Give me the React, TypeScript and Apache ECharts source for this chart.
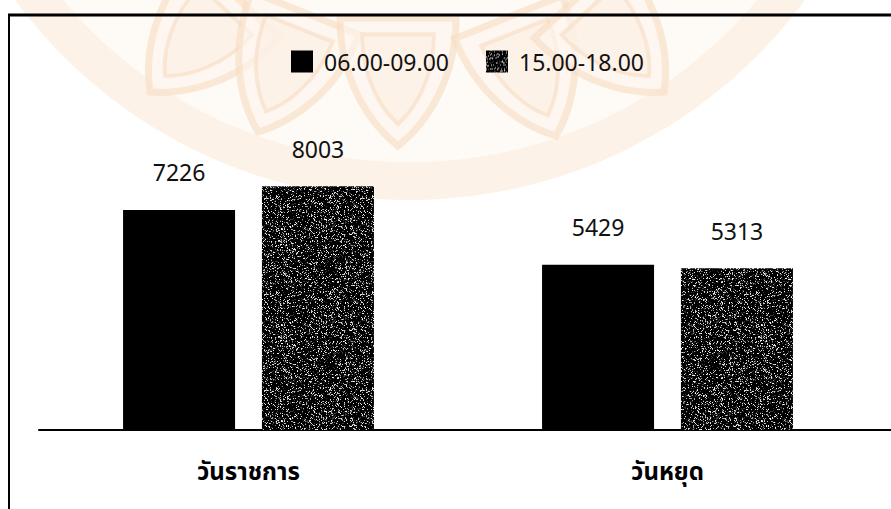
import React, { useEffect, useRef } from "react";
import * as echarts from "echarts";

// Traffic counts by day type and time window
const categories = ["วันราชการ", "วันหยุด"];
const seriesNames = ["06.00-09.00", "15.00-18.00"];
const morningCounts = [7226, 5429];
const eveningCounts = [8003, 5313];

// Speckled dark texture used for the afternoon series (deterministic LCG)
function makeSpeckleTexture(): string {
  const size = 96;
  const c = document.createElement("canvas");
  c.width = size;
  c.height = size;
  const ctx = c.getContext("2d")!;
  ctx.fillStyle = "#000";
  ctx.fillRect(0, 0, size, size);
  let s = 12345;
  const next = () => {
    s = (s * 1103515245 + 12345) & 0x7fffffff;
    return s / 0x7fffffff;
  };
  for (let y = 0; y < size; y++) {
    for (let x = 0; x < size; x++) {
      const r = next();
      if (r < 0.15) {
        const g = 140 + Math.floor(next() * 115);
        ctx.fillStyle = `rgb(${g},${g},${g})`;
        ctx.fillRect(x, y, 1, 1);
      } else if (r < 0.25) {
        ctx.fillStyle = "#383838";
        ctx.fillRect(x, y, 1, 1);
      }
    }
  }
  return c.toDataURL();
}

const PETAL_D =
  "M0 0 C-28 -22 -58 -66 -58 -128 L58 -128 C58 -66 28 -22 0 0 Z";

let petalRegistered = false;
function registerPetal() {
  if (petalRegistered) return;
  echarts.graphic.registerShape(
    "petal",
    echarts.graphic.extendPath(PETAL_D, {}) as any
  );
  petalRegistered = true;
}

export default function App() {
  const ref = useRef<HTMLDivElement>(null);

  useEffect(() => {
    if (!ref.current) return;
    document.body.style.margin = "0";
    registerPetal();
    const chart = echarts.init(ref.current, undefined, { renderer: "svg" });

    const speckle = { image: makeSpeckleTexture(), repeat: "repeat" } as any;
    const labelFont = "'Noto Sans', 'DejaVu Sans', sans-serif";

    // faint seal in the background
    const peach = "#f7dcc2";
    const petals: any[] = [];
    const petalSpots = [
      { x: 150, y: 92, rot: -0.75 },
      { x: 258, y: 132, rot: -0.38 },
      { x: 398, y: 146, rot: 0 },
      { x: 556, y: 136, rot: 0.38 },
      { x: 664, y: 92, rot: 0.75 },
    ];
    petalSpots.forEach((p) => {
      petals.push({
        type: "petal",
        x: p.x,
        y: p.y,
        rotation: p.rot,
        z: 1,
        silent: true,
        style: { fill: "#fdf5ee", stroke: peach, lineWidth: 7, opacity: 0.6 },
      });
      petals.push({
        type: "petal",
        x: p.x - Math.sin(p.rot) * 22,
        y: p.y - Math.cos(p.rot) * 22,
        rotation: p.rot,
        scaleX: 0.62,
        scaleY: 0.7,
        z: 1,
        silent: true,
        style: { fill: "#fcefe3", stroke: peach, lineWidth: 6, opacity: 0.6 },
      });
    });

    chart.setOption({
      animation: false,
      backgroundColor: "#ffffff",
      legend: {
        left: 286,
        top: 45,
        itemWidth: 22,
        itemHeight: 22,
        itemGap: 37,
        icon: "rect",
        data: seriesNames,
        textStyle: {
          fontFamily: labelFont,
          fontSize: 23,
          color: "#111",
          padding: [0, 0, 0, 6],
        },
      },
      grid: { left: 39, right: 14, top: 125.5, bottom: 79 },
      xAxis: {
        type: "category",
        data: categories,
        axisTick: { show: false },
        axisLine: { lineStyle: { color: "#000", width: 2 } },
        axisLabel: {
          margin: 31,
          fontSize: 24,
          fontWeight: "bold",
          color: "#000",
          fontFamily: "'Noto Sans Thai', 'Noto Sans', sans-serif",
        },
      },
      yAxis: {
        type: "value",
        min: 0,
        max: 10000,
        show: false,
        splitLine: { show: false },
      },
      series: [
        {
          name: seriesNames[0],
          type: "bar",
          data: morningCounts,
          barWidth: 112,
          barGap: "24%",
          itemStyle: { color: "#000" },
          label: {
            show: true,
            position: "top",
            distance: 26,
            fontFamily: labelFont,
            fontSize: 23,
            color: "#111",
          },
        },
        {
          name: seriesNames[1],
          type: "bar",
          data: eveningCounts,
          barWidth: 112,
          barGap: "24%",
          itemStyle: { color: speckle },
          label: {
            show: true,
            position: "top",
            distance: 26,
            fontFamily: labelFont,
            fontSize: 23,
            color: "#111",
          },
        },
      ],
      graphic: [
        {
          type: "ring",
          z: 0,
          silent: true,
          shape: { cx: 410, cy: -290, r: 490, r0: 452 },
          style: { fill: "#fbe9d8", opacity: 0.6 },
        },
        {
          type: "circle",
          z: 0,
          silent: true,
          shape: { cx: 410, cy: -290, r: 452 },
          style: { fill: "#fefaf6" },
        },
        ...petals,
        // outer frame
        {
          type: "line",
          z: 20,
          silent: true,
          shape: { x1: 8, y1: 15, x2: 891, y2: 15 },
          style: { stroke: "#000", lineWidth: 3 },
        },
        {
          type: "line",
          z: 20,
          silent: true,
          shape: { x1: 9, y1: 14, x2: 9, y2: 509 },
          style: { stroke: "#000", lineWidth: 2 },
        },
        // axis baseline running to the right edge
        {
          type: "line",
          z: 20,
          silent: true,
          shape: { x1: 876, y1: 430, x2: 891, y2: 430 },
          style: { stroke: "#000", lineWidth: 2 },
        },
      ],
    });

    return () => chart.dispose();
  }, []);

  return (
    <div
      ref={ref}
      style={{ position: "absolute", left: 0, top: 0, width: 891, height: 509 }}
    />
  );
}
